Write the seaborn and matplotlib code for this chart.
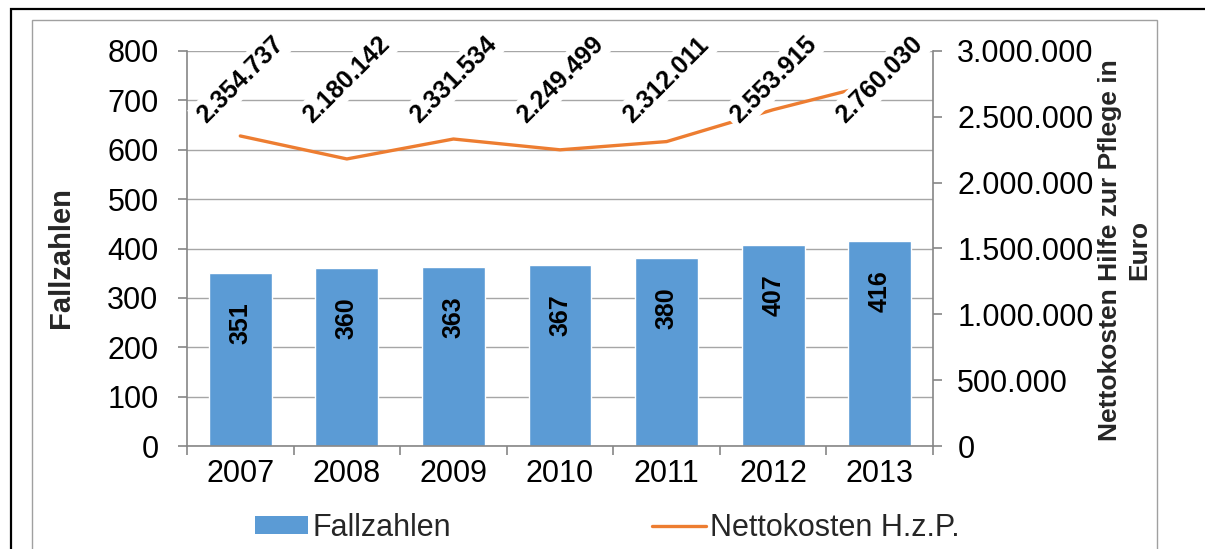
import numpy as np
import pandas as pd
import matplotlib
matplotlib.use("Agg")
import matplotlib.pyplot as plt
import matplotlib.transforms as mtransforms
from matplotlib.patches import Patch, Rectangle
from matplotlib.lines import Line2D
from matplotlib.ticker import FixedLocator, MultipleLocator, FuncFormatter
import seaborn as sns

# ---- data ----
years = ["2007", "2008", "2009", "2010", "2011", "2012", "2013"]
fallzahlen = [351, 360, 363, 367, 380, 407, 416]
nettokosten = [2354737, 2180142, 2331534, 2249499, 2312011, 2553915, 2760030]

bar_label = "Fallzahlen"
line_label = "Nettokosten H.z.P."
left_ylabel = "Fallzahlen"
right_ylabel = "Nettokosten Hilfe zur Pflege in\nEuro"

BLUE = "#5B9BD5"
ORANGE = "#ED7D31"
AXIS_GRAY = "#868686"
GRID_GRAY = "#a6a6a6"

sns.set_theme(style="white")
plt.rcParams["font.family"] = ["Liberation Sans", "DejaVu Sans"]

W, H = 1205, 549
fig = plt.figure(figsize=(W / 100, H / 100), dpi=100)
ax = fig.add_axes([187 / W, 1 - 446 / H, (933 - 187) / W, (446 - 51) / H])

df = pd.DataFrame({"Jahr": years, "Fallzahlen": fallzahlen})
sns.barplot(data=df, x="Jahr", y="Fallzahlen", color=BLUE, saturation=1,
            width=0.59, ax=ax, zorder=2)

ax2 = ax.twinx()
xpos = np.arange(len(years))
sns.lineplot(x=xpos, y=nettokosten, ax=ax2, color=ORANGE, linewidth=2.4, zorder=3)

ax.set_xlim(-0.5, len(years) - 0.5)
ax.set_ylim(0, 800)
ax2.set_ylim(0, 3000000)

ax.yaxis.set_major_locator(MultipleLocator(100))
ax2.yaxis.set_major_locator(MultipleLocator(500000))
ax2.yaxis.set_major_formatter(FuncFormatter(lambda v, p: f"{int(v):,}".replace(",", ".")))

# grid
ax.set_axisbelow(True)
ax.yaxis.grid(True, color=GRID_GRAY, linewidth=1.0)
ax.xaxis.grid(False)

# spines
for s in ["top", "right"]:
    ax.spines[s].set_visible(False)
for s in ["left", "bottom"]:
    ax.spines[s].set_color(AXIS_GRAY)
    ax.spines[s].set_linewidth(1.2)
for s in ["top", "left", "bottom"]:
    ax2.spines[s].set_visible(False)
ax2.spines["right"].set_color(AXIS_GRAY)
ax2.spines["right"].set_linewidth(1.2)

# ticks
ax.set_xlabel("")
ax.set_ylabel("")
ax2.set_ylabel("")
ax.set_xticks(xpos)
ax.set_xticklabels(years)
ax.xaxis.set_minor_locator(FixedLocator(np.arange(-0.5, len(years), 1.0)))
ax.tick_params(axis="x", which="major", length=0, pad=9, labelsize=22, colors="black")
ax.tick_params(axis="x", which="minor", length=6.5, width=1.2, color=AXIS_GRAY, direction="out", bottom=True)
ax.tick_params(axis="y", which="major", length=6.5, width=1.2, color=AXIS_GRAY, direction="out",
               pad=14, labelsize=22, labelcolor="black", left=True)
ax2.tick_params(axis="y", which="major", length=6.5, width=1.2, color=AXIS_GRAY, direction="out",
                pad=11, labelsize=22, labelcolor="black", right=True)

# bar labels
for i, v in enumerate(fallzahlen):
    ax.annotate(str(v), xy=(i, v), xytext=(0, -21), textcoords="offset points",
                ha="center", va="top", rotation=90, fontsize=18, fontweight="bold",
                color="black", zorder=4)

# line labels
trans = mtransforms.blended_transform_factory(ax2.transData, ax2.transAxes)
for i, v in enumerate(nettokosten):
    ax2.text(i, 0.927, f"{v:,}".replace(",", "."), transform=trans, rotation=45,
             ha="center", va="center", fontsize=18, fontweight="bold", color="black",
             zorder=5, bbox=dict(boxstyle="square,pad=0.15", fc="white", ec="none"))

# axis titles
fig.text(61 / W, 1 - 258 / H, left_ylabel, rotation=90, ha="center", va="center",
         fontsize=21, fontweight="bold")
fig.text(1125 / W, 1 - 250 / H, right_ylabel, rotation=90, ha="center", va="center",
         fontsize=19, fontweight="bold", linespacing=1.28, multialignment="center")

# legend
handles = [Patch(facecolor=BLUE, edgecolor="none"),
           Line2D([], [], color=ORANGE, linewidth=2.4)]
fig.legend(handles=handles, labels=[bar_label, line_label], loc="center",
           bbox_to_anchor=(0.5038, 1 - 528 / H), ncol=2, frameon=False, fontsize=22,
           handlelength=1.75, handleheight=0.5, handletextpad=0.13, columnspacing=6.6)

# frames
fig.add_artist(Rectangle((11 / W, -0.2), 1.2, 1 - 9 / H + 0.2, transform=fig.transFigure,
                         fill=False, edgecolor="black", linewidth=1.6, clip_on=False))
fig.add_artist(Rectangle((32 / W, -0.2), (1157 - 32) / W, 1 - 20 / H + 0.2,
                         transform=fig.transFigure, fill=False, edgecolor="#a0a0a0",
                         linewidth=1.0, clip_on=False))

fig.savefig("out.png", dpi=100)
